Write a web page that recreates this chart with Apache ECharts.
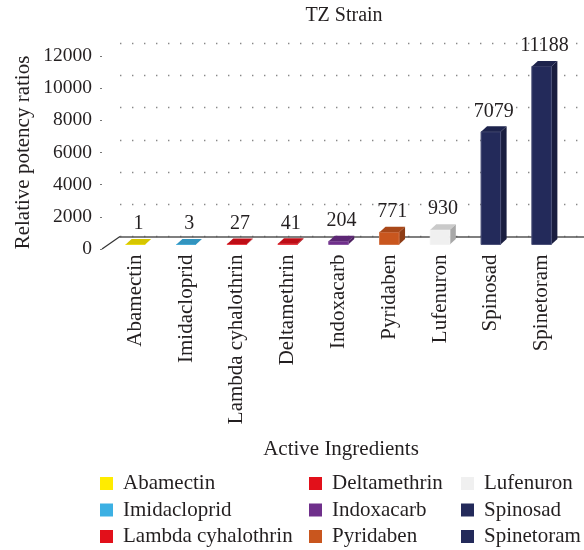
<!DOCTYPE html>
<html>
<head>
<meta charset="utf-8">
<script src="https://cdn.jsdelivr.net/npm/echarts@6/dist/echarts.min.js"></script>
<style>
	html, body { margin: 0; padding: 0; background: #fff; }
	#main { width: 584px; height: 550px; }
</style>
</head>
<body>
<div id="main"></div>
<script>
// data
var categories = [ 'Abamectin', 'Imidacloprid', 'Lambda cyhalothrin', 'Deltamethrin',
		'Indoxacarb', 'Pyridaben', 'Lufenuron', 'Spinosad', 'Spinetoram' ];
var ratios = [ 1, 3, 27, 41, 204, 771, 930, 7079, 11188 ];
var colors = [ '#ffec00', '#3cb0e3', '#e2101a', '#e2101a', '#6f2f8b', '#c9561e',
		'#f0f0f0', '#232a5a', '#232a5a' ];
var yMax = 12000;
var yStep = 2000;
var legendCols = [ [ 'Abamectin', 'Imidacloprid', 'Lambda cyhalothrin' ],
		[ 'Deltamethrin', 'Indoxacarb', 'Pyridaben' ],
		[ 'Lufenuron', 'Spinosad', 'Spinetoram' ] ];

(function() {
	var myChart = echarts.init(document.getElementById('main'));
	var font = '"Liberation Serif", "Times New Roman", serif';
	var ink = '#231f20';

	// 3d depth of the bars
	var dx = 6, dy = -5.5;

	function shade(hex, f) {
		var n = parseInt(hex.slice(1), 16);
		var r = Math.round(((n >> 16) & 255) * f);
		var g = Math.round(((n >> 8) & 255) * f);
		var b = Math.round((n & 255) * f);
		return 'rgb(' + r + ',' + g + ',' + b + ')';
	}
	function lighten(hex, f) {
		var n = parseInt(hex.slice(1), 16);
		var c = [ (n >> 16) & 255, (n >> 8) & 255, n & 255 ].map(function(v) {
			return Math.round(v + (255 - v) * f);
		});
		return 'rgb(' + c.join(',') + ')';
	}

	function renderItem(params, api) {
		var top = api.coord([ api.value(0), api.value(1) ]);
		var base = api.coord([ api.value(0), 0 ]);
		var w = api.size([ 1, 0 ])[0] * 0.385;
		var x0 = top[0] - w / 2, x1 = top[0] + w / 2;
		var y0 = top[1], yb = base[1];
		var c = colors[params.seriesIndex];
		return {
			type : 'group',
			children : [ {
				type : 'polygon',
				shape : { points : [ [ x1, y0 ], [ x1 + dx, y0 + dy ], [ x1 + dx, yb + dy ], [ x1, yb ] ] },
				style : { fill : shade(c, 0.7) }
			}, {
				type : 'rect',
				shape : { x : x0, y : y0, width : w, height : yb - y0 },
				style : { fill : c, stroke : lighten(c, 0.18), lineWidth : 1 }
			}, {
				type : 'polygon',
				shape : { points : [ [ x0, y0 ], [ x1, y0 ], [ x1 + dx, y0 + dy ], [ x0 + dx, y0 + dy ] ] },
				style : { fill : shade(c, 0.84) }
			}, {
				type : 'text',
				style : {
					text : String(api.value(1)),
					x : top[0] + dx / 2,
					y : y0 + dy - 5,
					textAlign : 'center',
					textVerticalAlign : 'bottom',
					font : '20px ' + font,
					fill : ink
				}
			} ]
		};
	}

	var series = categories.map(function(name, i) {
		return {
			name : name,
			type : 'custom',
			xAxisIndex : 0,
			yAxisIndex : 0,
			itemStyle : { color : colors[i] },
			renderItem : renderItem,
			data : [ [ i, ratios[i] ] ],
			z : 5
		};
	});

	var legends = legendCols.map(function(col, k) {
		return {
			orient : 'vertical',
			left : [ 100, 309, 461 ][k],
			top : 473,
			padding : 0,
			itemWidth : 13,
			itemHeight : 13,
			itemGap : 5.5,
			icon : 'rect',
			selectedMode : false,
			textStyle : { fontFamily : font, fontSize : 21, color : ink, padding : [ 0, 0, 0, 5 ] },
			data : col
		};
	});

	myChart.setOption({
		animation : false,
		textStyle : { fontFamily : font },
		title : [ {
			text : 'TZ Strain',
			left : 344,
			textAlign : 'center',
			top : 6,
			padding : 0,
			textStyle : { fontFamily : font, fontSize : 20, fontWeight : 'normal', color : ink }
		}, {
			text : 'Active Ingredients',
			left : 341,
			textAlign : 'center',
			top : 439,
			padding : 0,
			textStyle : { fontFamily : font, fontSize : 21, fontWeight : 'normal', color : ink }
		} ],
		legend : legends,
		grid : [
		// plane of the bars
		{ left : 110, top : 53.5, width : 457, height : 191, outerBoundsMode : 'none' },
		// front value axis
		{ left : 102, top : 56, width : 1, height : 193, outerBoundsMode : 'none' },
		// back wall
		{ left : 120, top : 43.3, right : 0, height : 193.2, outerBoundsMode : 'none' } ],
		xAxis : [ {
			gridIndex : 0,
			type : 'category',
			data : categories,
			axisLine : { show : false },
			axisTick : { show : false },
			axisLabel : { rotate : 90, margin : 10, fontSize : 21, color : ink, fontFamily : font, interval : 0 }
		}, {
			gridIndex : 1,
			type : 'value',
			show : false
		}, {
			gridIndex : 2,
			type : 'value',
			min : 0,
			max : 1,
			axisLine : { show : true, lineStyle : { color : '#555', width : 1.5 } },
			axisTick : { show : false },
			axisLabel : { show : false },
			splitLine : { show : false }
		} ],
		yAxis : [ {
			gridIndex : 0,
			type : 'value',
			min : 0,
			max : yMax,
			interval : yStep,
			show : false
		}, {
			gridIndex : 1,
			type : 'value',
			min : 0,
			max : yMax,
			interval : yStep,
			name : 'Relative potency ratios',
			nameLocation : 'middle',
			nameRotate : 90,
			nameGap : 68,
			nameTextStyle : { fontFamily : font, fontSize : 21, color : ink },
			axisLine : { show : false },
			axisTick : { show : true, length : 2, lineStyle : { color : '#777' } },
			axisLabel : {
				margin : 10, fontSize : 19.5, color : ink, fontFamily : font,
				formatter : function(v) { return String(v); }
			},
			splitLine : { show : false }
		}, {
			gridIndex : 2,
			type : 'value',
			min : 0,
			max : yMax,
			interval : yStep,
			axisLine : { show : false },
			axisTick : { show : false },
			axisLabel : { show : false },
			splitLine : { show : true, lineStyle : { color : '#888', width : 1.4, type : [ 1.4, 10.6 ] } }
		} ],
		// left edge of the floor
		graphic : [ {
			type : 'line',
			shape : { x1 : 102, y1 : 249, x2 : 120, y2 : 236.5 },
			style : { stroke : '#333', lineWidth : 1.2 }
		} ],
		series : series
	});
})();
</script>
</body>
</html>
